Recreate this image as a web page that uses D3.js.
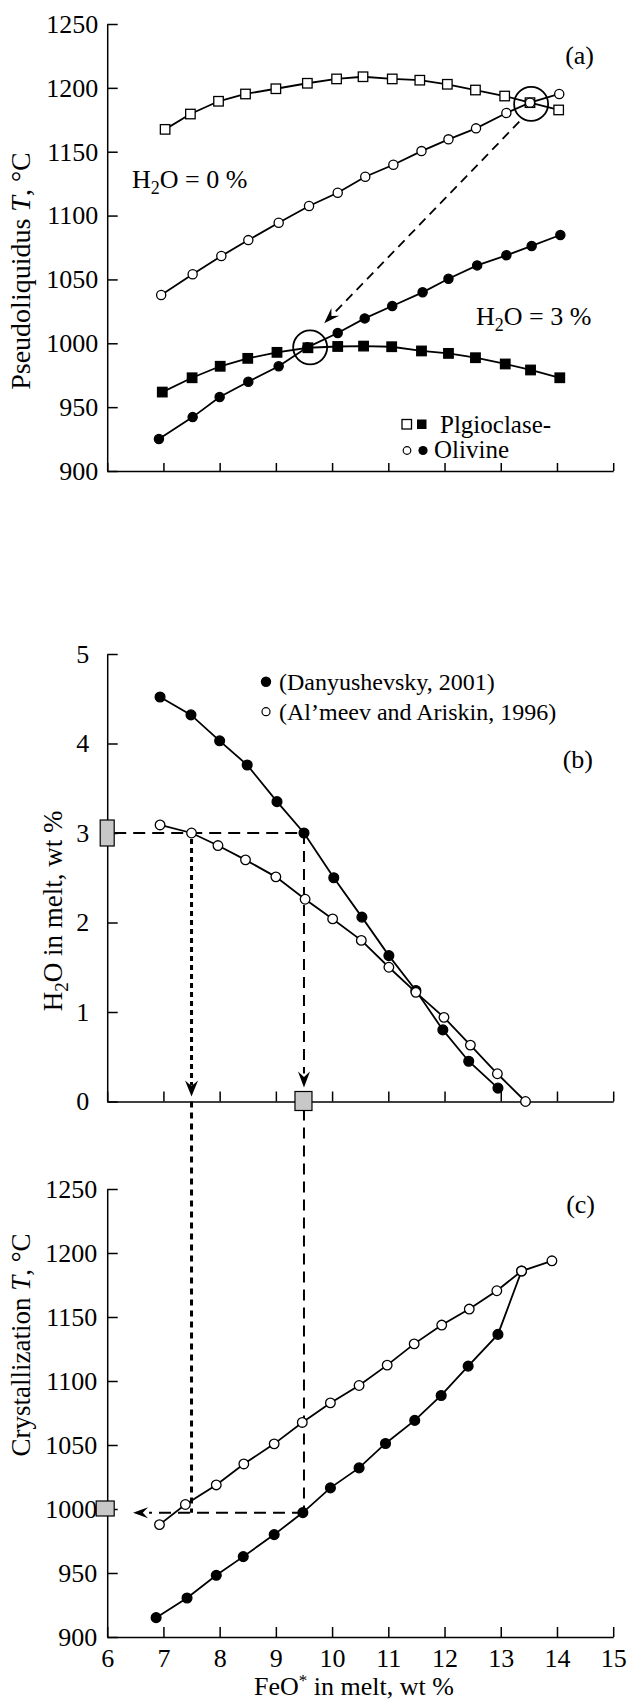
<!DOCTYPE html>
<html><head><meta charset="utf-8">
<script src="https://cdnjs.cloudflare.com/ajax/libs/d3/7.8.5/d3.min.js"></script>
<style>
html,body{margin:0;padding:0;background:#fff;}
svg{display:block;}
svg text{font-family:"Liberation Serif","Times New Roman",Times,serif !important;}
</style></head>
<body>
<script>
// ---------- DATA ----------
// Panel (a): pseudoliquidus T vs FeO*
const feoA_plag0 = [7.03, 7.48, 7.98, 8.46, 9.0, 9.56, 10.08, 10.55, 11.07, 11.56, 12.05, 12.55, 13.07, 13.52, 14.03];
const tA_plag0   = [1167.5, 1179.5, 1189.5, 1195.2, 1199.3, 1203.6, 1207, 1208.7, 1207, 1206, 1202.8, 1198.3, 1193.6, 1188.4, 1182.7];
const feoA_ol0   = [6.96, 7.52, 8.03, 8.51, 9.05, 9.59, 10.1, 10.59, 11.09, 11.59, 12.07, 12.56, 13.1, 13.52, 14.04];
const tA_ol0     = [1037.8, 1054, 1068.3, 1080.8, 1094.4, 1107.5, 1117.9, 1130.4, 1139.8, 1150.5, 1159.7, 1168.3, 1180.3, 1188.4, 1195.2];
const feoA_plag3 = [6.98, 7.51, 8.01, 8.5, 9.02, 9.57, 10.1, 10.56, 11.06, 11.59, 12.07, 12.55, 13.08, 13.53, 14.05];
const tA_plag3   = [961.8, 973, 982, 988.2, 992.9, 996.5, 997.5, 997.8, 997.3, 994, 992.1, 988.7, 983.8, 979.1, 973];
const feoA_ol3   = [6.92, 7.52, 8.0, 8.51, 9.05, 9.56, 10.1, 10.58, 11.07, 11.61, 12.07, 12.58, 13.1, 13.55, 14.06];
const tA_ol3     = [925, 942.2, 957.9, 969.9, 982, 996.8, 1008, 1019.5, 1029.2, 1039.9, 1050.5, 1061, 1068.9, 1076.2, 1084.8];
const circlesA   = [[13.54, 1187.4], [9.61, 996.8]];
const arrowA     = [[13.33, 1173.5], [9.86, 1015.6]];

// Panel (b): H2O in melt vs FeO*
const feoB_dan = [6.94, 7.49, 8.0, 8.49, 9.02, 9.5, 10.03, 10.53, 11.01, 11.49, 11.97, 12.43, 12.95];
const h2oB_dan = [4.52, 4.32, 4.03, 3.76, 3.35, 3.0, 2.5, 2.06, 1.63, 1.24, 0.8, 0.45, 0.15];
const feoB_alm = [6.94, 7.5, 7.97, 8.46, 9.0, 9.52, 10.01, 10.52, 11.01, 11.49, 11.99, 12.46, 12.94, 13.44];
const h2oB_alm = [3.09, 3.0, 2.86, 2.7, 2.51, 2.26, 2.04, 1.8, 1.5, 1.22, 0.94, 0.63, 0.31, 0.0];

// Panel (c): crystallization T vs FeO*
const feoC_alm = [6.93, 7.39, 7.94, 8.43, 8.97, 9.47, 9.97, 10.48, 10.98, 11.46, 11.95, 12.44, 12.93, 13.37, 13.91];
const tC_alm   = [987.8, 1003.5, 1018.8, 1035.2, 1050.9, 1067.6, 1082.9, 1096.5, 1112.4, 1129, 1143.7, 1156.2, 1170.5, 1185.9, 1193.9];
const feoC_dan = [6.87, 7.42, 7.94, 8.42, 8.97, 9.48, 9.97, 10.48, 10.95, 11.47, 11.94, 12.42, 12.95, 13.37];
const tC_dan   = [915.1, 930.5, 948.2, 962.8, 980, 997.2, 1016.5, 1032.1, 1051.2, 1069.2, 1088.7, 1111.6, 1136.4, 1185.9];

// Guides (b)->(c)
const guideH2O = 3;
const guideFeO_dan = 9.5;
const guideFeO_alm = 7.5;
const guideT = 997;
const guideArrowFeO = 6.46;
const markerT = 1000;

// Ticks
const xTicks = [6, 7, 8, 9, 10, 11, 12, 13, 14, 15];
const tTicks = [900, 950, 1000, 1050, 1100, 1150, 1200, 1250];
const hTicks = [0, 1, 2, 3, 4, 5];

// ---------- CHART ----------
const svg = d3.select("body").append("svg").attr("width", 628).attr("height", 1702);

const x  = d3.scaleLinear().domain([6, 15]).range([107.2, 613.2]);
const yA = d3.scaleLinear().domain([900, 1250]).range([471, 24]);
const yB = d3.scaleLinear().domain([0, 5]).range([1101.5, 654]);
const yC = d3.scaleLinear().domain([900, 1250]).range([1637, 1189]);
const x0 = x(6);

function styleAxis(g, fs) {
  g.attr("font-family", null);
  g.select(".domain").attr("stroke", "#000").attr("stroke-width", 1.5);
  g.selectAll(".tick line").attr("stroke", "#000").attr("stroke-width", 1.5);
  g.selectAll(".tick text").attr("fill", "#000").attr("font-size", fs);
  return g;
}
function yAxis(scale, ticks, pad) {
  const g = svg.append("g").attr("transform", `translate(${x0},0)`)
    .call(d3.axisLeft(scale).tickValues(ticks).tickSizeInner(-10.5).tickSizeOuter(0).tickPadding(pad).tickFormat(d3.format("d")));
  return styleAxis(g, 26);
}
function xAxis(yPos, labels, tick) {
  const g = svg.append("g").attr("transform", `translate(0,${yPos})`)
    .call(d3.axisBottom(x).tickValues(xTicks).tickSizeInner(-tick).tickSizeOuter(0).tickPadding(12)
      .tickFormat(labels ? d3.format("d") : ""));
  return styleAxis(g, 26);
}

yAxis(yA, tTicks, 9);
xAxis(yA(900), false, 8);
yAxis(yB, hTicks, 18);
xAxis(yB(0), false, 10);
yAxis(yC, tTicks, 10);
xAxis(yC(900), true, 10);

const zipp = (a, b) => a.map((v, i) => [v, b[i]]);
function series(yS, xs, ys) {
  const pts = zipp(xs, ys);
  svg.append("path").datum(pts)
    .attr("d", d3.line().x(d => x(d[0])).y(d => yS(d[1])))
    .attr("fill", "none").attr("stroke", "#000").attr("stroke-width", 1.8);
  return pts;
}
function marks(yS, pts, shape, filled, size) {
  const g = svg.append("g");
  if (shape === "square") {
    const s = size || 9.5;
    g.selectAll("rect").data(pts).join("rect")
      .attr("x", d => x(d[0]) - s / 2).attr("y", d => yS(d[1]) - s / 2)
      .attr("width", s).attr("height", s)
      .attr("fill", filled ? "#000" : "#fff").attr("stroke", "#000").attr("stroke-width", 1.3);
  } else {
    g.selectAll("circle").data(pts).join("circle")
      .attr("cx", d => x(d[0])).attr("cy", d => yS(d[1])).attr("r", size || 4.6)
      .attr("fill", filled ? "#000" : "#fff").attr("stroke", "#000").attr("stroke-width", 1.3);
  }
}

function arrowHead(tx, ty, angleDeg, len = 16, wid = 12) {
  const p = `M0,0 L${-len},${-wid / 2} L${-len * 0.65},0 L${-len},${wid / 2} Z`;
  svg.append("path").attr("d", p).attr("fill", "#000")
    .attr("transform", `translate(${tx},${ty}) rotate(${angleDeg})`);
}

function txt(xp, yp, anchor, size) {
  return svg.append("text").attr("x", xp).attr("y", yp).attr("text-anchor", anchor)
    .attr("font-size", size).attr("fill", "#000");
}

// ---------- Panel (a) ----------
const pA_plag0 = series(yA, feoA_plag0, tA_plag0);
const pA_ol0   = series(yA, feoA_ol0, tA_ol0);
const pA_plag3 = series(yA, feoA_plag3, tA_plag3);
const pA_ol3   = series(yA, feoA_ol3, tA_ol3);
marks(yA, pA_plag0, "square", false);
marks(yA, pA_plag3, "square", true);
marks(yA, pA_ol0, "circle", false);
marks(yA, pA_ol3, "circle", true);

svg.append("g").selectAll("circle").data(circlesA).join("circle")
  .attr("cx", d => x(d[0])).attr("cy", d => yA(d[1])).attr("r", 17)
  .attr("fill", "none").attr("stroke", "#000").attr("stroke-width", 1.8);

{
  const [s, e] = arrowA;
  const sx = x(s[0]), sy = yA(s[1]), ex = x(e[0]), ey = yA(e[1]);
  const ang = Math.atan2(ey - sy, ex - sx);
  const back = 12;
  svg.append("line").attr("x1", sx).attr("y1", sy)
    .attr("x2", ex - back * Math.cos(ang)).attr("y2", ey - back * Math.sin(ang))
    .attr("stroke", "#000").attr("stroke-width", 1.8).attr("stroke-dasharray", "9,6");
  arrowHead(ex, ey, ang * 180 / Math.PI, 16, 11);
}

txt(594, 64, "end", 26).text("(a)");
{
  const t = txt(132, 188, "start", 26);
  t.append("tspan").text("H");
  t.append("tspan").attr("dy", 6).attr("font-size", 18).text("2");
  t.append("tspan").attr("dy", -6).text("O = 0 %");
}
{
  const t = txt(476, 325, "start", 26);
  t.append("tspan").text("H");
  t.append("tspan").attr("dy", 6).attr("font-size", 18).text("2");
  t.append("tspan").attr("dy", -6).text("O = 3 %");
}
svg.append("rect").attr("x", 402).attr("y", 419.5).attr("width", 9.5).attr("height", 9.5).attr("fill", "#fff").attr("stroke", "#000").attr("stroke-width", 1.3);
svg.append("rect").attr("x", 417).attr("y", 419.5).attr("width", 9.5).attr("height", 9.5).attr("fill", "#000");
svg.append("circle").attr("cx", 407).attr("cy", 450.5).attr("r", 3.8).attr("fill", "#fff").attr("stroke", "#000").attr("stroke-width", 1.2);
svg.append("circle").attr("cx", 423).attr("cy", 450.5).attr("r", 4.6).attr("fill", "#000");
txt(440, 433, "start", 25).text("Plgioclase-");
txt(434, 458, "start", 25).text("Olivine");

{
  const t = svg.append("text").attr("transform", "translate(30,271) rotate(-90)")
    .attr("text-anchor", "middle").attr("font-size", 28).attr("fill", "#000");
  t.append("tspan").text("Pseudoliquidus ");
  t.append("tspan").attr("font-style", "italic").text("T");
  t.append("tspan").text(", °C");
}

// ---------- Panel (b) ----------
const pB_dan = series(yB, feoB_dan, h2oB_dan);
const pB_alm = series(yB, feoB_alm, h2oB_alm);

const gx95 = x(guideFeO_dan), gx75 = x(guideFeO_alm), gy3 = yB(guideH2O);
svg.append("line").attr("x1", x0 + 7).attr("y1", gy3).attr("x2", gx95).attr("y2", gy3)
  .attr("stroke", "#000").attr("stroke-width", 2).attr("stroke-dasharray", "12,7");
svg.append("line").attr("x1", gx95).attr("y1", gy3).attr("x2", gx95).attr("y2", yB(0) - 28)
  .attr("stroke", "#000").attr("stroke-width", 2).attr("stroke-dasharray", "11,7");
arrowHead(gx95, yB(0) - 14, 90, 16, 12);
svg.append("line").attr("x1", gx95).attr("y1", yB(0) + 8).attr("x2", gx95).attr("y2", yC(guideT))
  .attr("stroke", "#000").attr("stroke-width", 2).attr("stroke-dasharray", "11,7");
svg.append("line").attr("x1", gx75).attr("y1", gy3 + 6).attr("x2", gx75).attr("y2", yB(0) - 16)
  .attr("stroke", "#000").attr("stroke-width", 3).attr("stroke-dasharray", "5,4");
arrowHead(gx75, yB(0) - 5, 90, 16, 13);
svg.append("line").attr("x1", gx75).attr("y1", yB(0)).attr("x2", gx75).attr("y2", yC(guideT))
  .attr("stroke", "#000").attr("stroke-width", 3).attr("stroke-dasharray", "6,5");
svg.append("line").attr("x1", gx95).attr("y1", yC(guideT)).attr("x2", x(guideArrowFeO) + 16).attr("y2", yC(guideT))
  .attr("stroke", "#000").attr("stroke-width", 2).attr("stroke-dasharray", "12,7");
arrowHead(x(guideArrowFeO), yC(guideT), 180, 15, 11);

marks(yB, pB_dan, "circle", true, 4.9);
marks(yB, pB_alm, "circle", false, 4.8);

svg.append("rect").attr("x", x0 - 7).attr("y", gy3 - 13).attr("width", 14).attr("height", 26)
  .attr("fill", "#c8c8c8").attr("stroke", "#000").attr("stroke-width", 1.2);
svg.append("rect").attr("x", gx95 - 9).attr("y", yB(0) - 10).attr("width", 17).attr("height", 19)
  .attr("fill", "#c8c8c8").attr("stroke", "#000").attr("stroke-width", 1.2);

svg.append("circle").attr("cx", 266).attr("cy", 681.7).attr("r", 5.2).attr("fill", "#000");
svg.append("circle").attr("cx", 266).attr("cy", 711.7).attr("r", 4).attr("fill", "#fff").attr("stroke", "#000").attr("stroke-width", 1.2);
txt(279, 690, "start", 24).text("(Danyushevsky, 2001)");
txt(279, 720, "start", 24).text("(Al\u2019meev and Ariskin, 1996)");
txt(593, 768, "end", 26).text("(b)");

{
  const t = svg.append("text").attr("transform", "translate(62,911) rotate(-90)")
    .attr("text-anchor", "middle").attr("font-size", 27).attr("fill", "#000");
  t.append("tspan").text("H");
  t.append("tspan").attr("dy", 6).attr("font-size", 19).text("2");
  t.append("tspan").attr("dy", -6).text("O in melt, wt %");
}

// ---------- Panel (c) ----------
const pC_alm = series(yC, feoC_alm, tC_alm);
const pC_dan = series(yC, feoC_dan, tC_dan);
marks(yC, pC_dan, "circle", true, 4.9);
marks(yC, pC_alm, "circle", false, 4.8);

svg.append("rect").attr("x", x0 - 11).attr("y", yC(markerT) - 8).attr("width", 18).attr("height", 15)
  .attr("fill", "#c8c8c8").attr("stroke", "#000").attr("stroke-width", 1.2);

txt(595, 1213, "end", 26).text("(c)");
{
  const t = svg.append("text").attr("transform", "translate(30,1345) rotate(-90)")
    .attr("text-anchor", "middle").attr("font-size", 27).attr("fill", "#000");
  t.append("tspan").text("Crystallization ");
  t.append("tspan").attr("font-style", "italic").text("T");
  t.append("tspan").text(", °C");
}
{
  const t = txt(354, 1695, "middle", 26);
  t.append("tspan").text("FeO");
  t.append("tspan").attr("dy", -9).attr("font-size", 17).text("*");
  t.append("tspan").attr("dy", 9).text(" in melt, wt %");
}
</script>
</body></html>
